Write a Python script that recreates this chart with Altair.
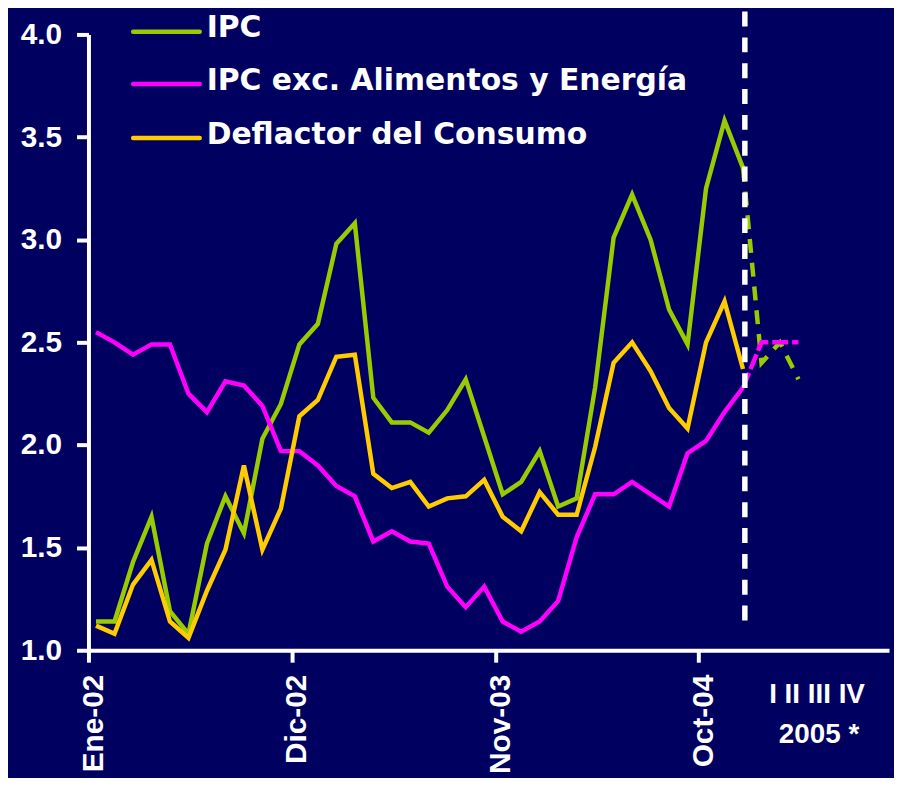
import altair as alt
import pandas as pd

# ---- data ----
month_idx = list(range(36))  # Ene-02 .. Dic-04
ipc = [1.14, 1.14, 1.43, 1.65, 1.19, 1.08, 1.52, 1.75, 1.57, 2.03, 2.20, 2.49,
       2.59, 2.98, 3.08, 2.23, 2.11, 2.11, 2.06, 2.17, 2.32, 2.04, 1.76, 1.82,
       1.97, 1.70, 1.74, 2.28, 3.01, 3.22, 3.00, 2.66, 2.49, 3.25, 3.58, 3.35]
core = [2.55, 2.50, 2.44, 2.49, 2.49, 2.25, 2.16, 2.31, 2.29, 2.19, 1.97, 1.97,
        1.90, 1.80, 1.75, 1.53, 1.58, 1.53, 1.52, 1.31, 1.21, 1.31, 1.14, 1.09,
        1.14, 1.24, 1.55, 1.76, 1.76, 1.82, 1.76, 1.70, 1.96, 2.02, 2.16, 2.28]
deflator = [1.12, 1.08, 1.32, 1.44, 1.14, 1.06, 1.29, 1.49, 1.90, 1.49, 1.69, 2.14,
            2.22, 2.43, 2.44, 1.86, 1.79, 1.82, 1.70, 1.74, 1.75, 1.83, 1.65, 1.58,
            1.77, 1.66, 1.66, 1.99, 2.40, 2.50, 2.36, 2.18, 2.08, 2.50, 2.70, 2.37]

# forecast 2005 (quarters I-III), joined to Dic-04
fc_idx = [35, 36, 37, 38]
ipc_fc = [3.35, 2.40, 2.50, 2.32]
core_fc = [2.28, 2.50, 2.50, 2.50]

series_names = ["IPC", "IPC exc. Alimentos y Energía", "Deflactor del Consumo"]
series_colors = ["#99CC00", "#FF00FF", "#FFCC00"]

x_tick_values = [-0.4, 10.6, 21.6, 32.6]
x_tick_labels = ["Ene-02", "Dic-02", "Nov-03", "Oct-04"]
y_tick_values = [1.0, 1.5, 2.0, 2.5, 3.0, 3.5, 4.0]
quarter_text = "I II III IV"
year_text = "2005 *"
divider_x = [35.1]
divider_y = [1.145, 4.13]

BG = "#000060"
WHITE = "#FFFFFF"

x_scale = alt.Scale(domain=[-0.41, 42.9], nice=False, zero=False)
y_scale = alt.Scale(domain=[1.0, 4.0], nice=False, zero=False)

label_expr = ""
for i, (v, lab) in enumerate(zip(x_tick_values, x_tick_labels)):
    if i < len(x_tick_values) - 1:
        label_expr += f"datum.value < {v + 1} ? '{lab}' : "
    else:
        label_expr += f"'{lab}'"

x_axis = alt.Axis(values=x_tick_values, labelExpr=label_expr, labelAngle=270,
                  labelFont="Liberation Sans", labelFontSize=30, labelFontWeight="bold",
                  labelColor=WHITE, tickColor=WHITE, tickWidth=4, tickSize=12,
                  domainColor=WHITE, domainWidth=4, labelPadding=12, grid=False,
                  title=None, labelFlush=False, labelOverlap=False, labelOffset=5)
y_axis = alt.Axis(values=y_tick_values, format=".1f",
                  labelFont="Liberation Sans", labelFontSize=30, labelFontWeight="bold",
                  labelColor=WHITE, tickColor=WHITE, tickWidth=4, tickSize=12,
                  domainColor=WHITE, domainWidth=4, labelPadding=15, grid=False,
                  title=None, labelOverlap=False, labelFlush=False)


def line_layer(xs, ys, color, dash=None, axes=False):
    df = pd.DataFrame({"t": xs, "v": ys})
    kw = dict(strokeWidth=4.5, color=color, strokeJoin="miter")
    if dash:
        kw["strokeDash"] = dash
    if axes:
        xe = alt.X("t:Q", scale=x_scale, axis=x_axis)
        ye = alt.Y("v:Q", scale=y_scale, axis=y_axis)
    else:
        xe = alt.X("t:Q", scale=x_scale)
        ye = alt.Y("v:Q", scale=y_scale)
    return alt.Chart(df).mark_line(**kw).encode(x=xe, y=ye)


layers = [
    line_layer(month_idx, ipc, series_colors[0], axes=True),
    line_layer(month_idx, core, series_colors[1]),
    line_layer(month_idx, deflator, series_colors[2]),
    line_layer(fc_idx, ipc_fc, series_colors[0], dash=[14, 10]),
    line_layer(fc_idx, core_fc, series_colors[1], dash=[16, 4]),
]

# vertical dashed divider
div_df = pd.DataFrame({"t": divider_x, "v": [divider_y[0]], "v2": [divider_y[1]]})
divider = alt.Chart(div_df).mark_rule(color=WHITE, strokeWidth=5.5, strokeDash=[15, 11]).encode(
    x=alt.X("t:Q", scale=x_scale),
    y=alt.Y("v:Q", scale=y_scale),
    y2="v2:Q",
)
layers.append(divider)

# manual legend
leg_line_y = [-2.7, 50, 104.3]
leg_text_y = [-6.7, 47, 101]
for name, col, ly, ty in zip(series_names, series_colors, leg_line_y, leg_text_y):
    ldf = pd.DataFrame({"name": [name]})
    layers.append(alt.Chart(ldf).mark_rule(color=col, strokeWidth=4.5, strokeCap="round").encode(
        x=alt.value(45), x2=alt.value(112), y=alt.value(ly)))
    layers.append(alt.Chart(ldf).mark_text(align="left", baseline="middle", font="DejaVu Sans",
                                           fontSize=30, fontWeight="bold", color=WHITE).encode(
        x=alt.value(119), y=alt.value(ty), text="name:N"))

# 2005 quarter annotation
for txt, xx, yy in [(quarter_text, 733.5, 665), (year_text, 735.5, 705)]:
    adf = pd.DataFrame({"txt": [txt]})
    layers.append(alt.Chart(adf).mark_text(align="center", baseline="middle", font="Liberation Sans",
                                           fontSize=28, fontWeight="bold", color=WHITE).encode(
        x=alt.value(xx), y=alt.value(yy), text="txt:N"))

chart = alt.layer(*layers).properties(
    width=806, height=620,
    autosize=alt.AutoSizeParams(type="none"),
    padding={"left": 81, "top": 24, "right": 5, "bottom": 126},
    background=BG,
).configure_view(stroke=None)

chart.save("out.html", embed_options={"renderer": "svg", "actions": False})
